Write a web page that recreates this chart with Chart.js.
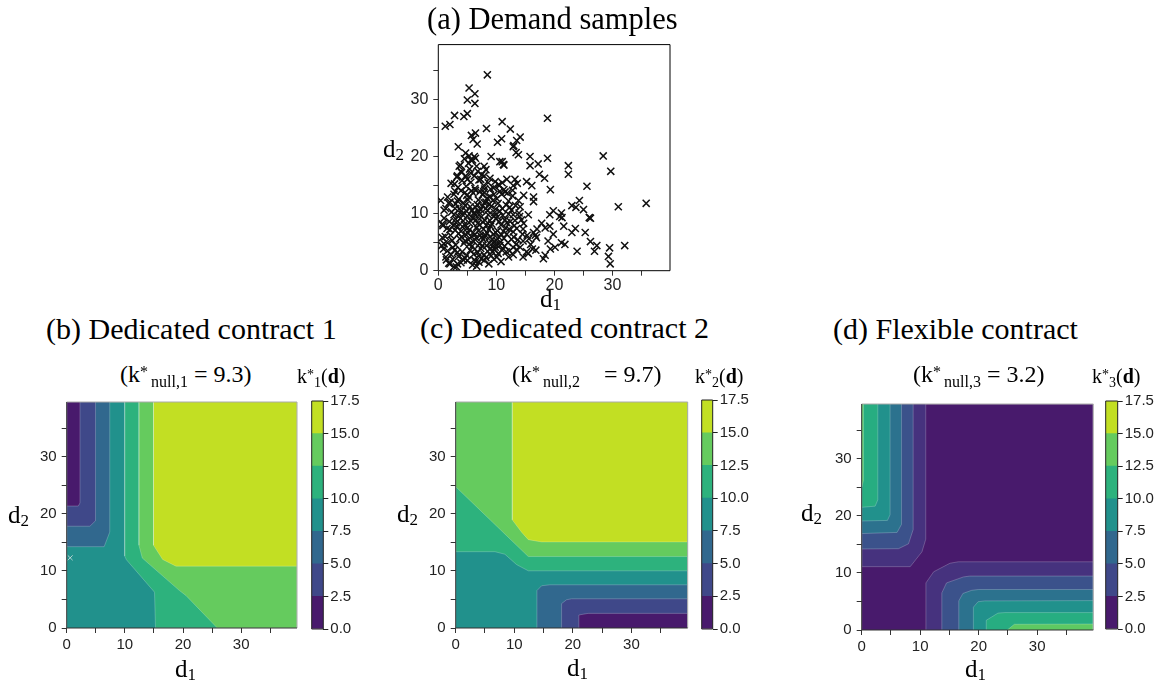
<!DOCTYPE html>
<html>
<head>
<meta charset="utf-8">
<script src="https://cdn.jsdelivr.net/npm/chart.js"></script>
<style>
body{margin:0;background:#fff;width:1165px;height:686px;position:relative;overflow:hidden;font-family:"Liberation Serif","Times New Roman",serif;}
canvas{position:absolute}
.t{position:absolute;white-space:nowrap;color:#000;line-height:1}
.sp{font-size:16px;position:relative;top:-5px}
.sb{font-size:16px;position:relative;top:5px;margin-left:3px}
.sp2{font-size:14px;position:relative;top:-4px}
.sb2{font-size:14px;position:relative;top:4px}
.sb3{font-size:17px;position:relative;top:3px}
</style>
</head>
<body>
<canvas id="chartA" width="300" height="262" style="left:380px;top:30px"></canvas>
<canvas id="chartB" width="276" height="276" style="left:26px;top:388px"></canvas>
<canvas id="chartC" width="276" height="276" style="left:415px;top:388px"></canvas>
<canvas id="chartD" width="276" height="276" style="left:821px;top:390.3px"></canvas>
<canvas id="cbB" width="62" height="250" style="left:306px;top:390px"></canvas>
<canvas id="cbC" width="62" height="251" style="left:696px;top:389.3px"></canvas>
<canvas id="cbD" width="62" height="250" style="left:1100px;top:390.3px"></canvas>

<div class="t" style="left:427px;top:4px;font-size:30.5px">(a) Demand samples</div>
<div class="t" style="left:46px;top:314px;font-size:30px">(b) Dedicated contract 1</div>
<div class="t" style="left:420px;top:313px;font-size:30px">(c) Dedicated contract 2</div>
<div class="t" style="left:833px;top:314px;font-size:30px">(d) Flexible contract</div>

<div class="t" style="left:120px;top:362px;font-size:24px">(k<span class="sp">*</span><span class="sb">null,1</span> = 9.3)</div>
<div class="t" style="left:512px;top:362px;font-size:24px">(k<span class="sp">*</span><span class="sb">null,2</span><span style="display:inline-block;width:18px"></span> = 9.7)</div>
<div class="t" style="left:913px;top:362px;font-size:24px">(k<span class="sp">*</span><span class="sb">null,3</span> = 3.2)</div>

<div class="t" style="left:297px;top:366px;font-size:20px">k<span class="sp2">*</span><span class="sb2">1</span>(<b>d</b>)</div>
<div class="t" style="left:695px;top:366px;font-size:20px">k<span class="sp2">*</span><span class="sb2">2</span>(<b>d</b>)</div>
<div class="t" style="left:1092px;top:366px;font-size:20px">k<span class="sp2">*</span><span class="sb2">3</span>(<b>d</b>)</div>

<div class="t" style="left:383px;top:136px;font-size:25px">d<span class="sb3">2</span></div>
<div class="t" style="left:540px;top:286px;font-size:25px">d<span class="sb3">1</span></div>
<div class="t" style="left:8px;top:502px;font-size:25px">d<span class="sb3">2</span></div>
<div class="t" style="left:175px;top:656px;font-size:25px">d<span class="sb3">1</span></div>
<div class="t" style="left:397px;top:501px;font-size:25px">d<span class="sb3">2</span></div>
<div class="t" style="left:567px;top:655px;font-size:25px">d<span class="sb3">1</span></div>
<div class="t" style="left:801px;top:500px;font-size:25px">d<span class="sb3">2</span></div>
<div class="t" style="left:965px;top:656px;font-size:25px">d<span class="sb3">1</span></div>

<script>
// ---- data ----
// (a) demand samples [d1, d2]
const demandSamples = [
  [8.45,34.3],[5.3,32.0],[6.3,31.0],[5.0,29.9],[6.3,29.3],[1.2,25.3],[2.0,25.6],[2.8,27.2],[4.4,27.0],[5.0,27.5],
  [8.3,24.9],[11.0,26.1],[12.4,24.8],[18.8,26.7],[5.7,23.7],[6.4,24.1],[6.0,23.0],[6.7,22.2],[10.2,22.5],[10.9,23.1],
  [14.1,23.4],[13.5,22.8],[13.0,21.9],[3.45,21.7],
  [28.4,20.1],[22.4,18.4],[22.4,16.9],[29.7,17.4],[25.6,14.8],[24.3,12.3],[23.0,11.4],[23.7,11.1],[25.0,10.7],[26.0,9.3],
  [26.2,9.2],[35.8,11.8],[31.0,11.2],[21.3,9.3],[21.6,7.8],[23.6,7.4],[23.0,6.7],[25.3,6.7],[21.8,4.6],[26.2,5.1],
  [27.3,4.4],[26.9,3.4],[23.9,3.4],[29.5,4.0],[29.3,2.5],[29.6,1.2],[32.1,4.4],
  [12.9,21.7],[13.4,20.7],[13.8,20.3],[15.8,20.0],[15.8,18.4],[17.2,18.7],[18.8,19.7],[17.4,16.9],[18.3,16.2],[19.3,14.2],
  [11.2,18.6],[11.0,19.1],[15.2,15.6],[16.1,14.9],[14.7,13.2],[16.4,12.9],[13.2,16.0],[12.9,14.9],[11.8,16.0],[11.5,13.8],
  [19.8,10.5],[19.2,9.8],[20.9,9.5],[21.2,10.1],[17.8,8.3],[18.4,7.5],[19.2,7.8],[19.8,6.4],[18.9,5.2],[20.1,4.1],
  [21.2,4.9],[16.9,5.8],[16.4,6.7],[14.6,5.2],[14.1,4.1],[12.9,4.1],[12.1,2.4],[14.6,2.4],[18.1,2.1],[18.4,2.7],
  [15.5,9.8],[16.4,12.1],[14.1,11.2],[12.4,8.6],[13.5,7.4],[11.8,6.4],
  [4.7,20.6],[5.3,20.1],[5.6,19.4],[6.4,19.7],[7.9,18.3],[8.2,17.7],[3.6,18.3],[3.9,17.4],[3.3,16.6],[2.8,15.2],
  [5.6,17.1],[6.2,16.6],[5.0,16.0],[7.3,16.0],[7.9,16.6],[0.4,12.3],[1.6,12.9],[1.8,11.8],[1.3,10.9],[1.0,9.2],
  [2.7,9.8],[0.7,5.8],[1.0,4.7],[1.6,3.5],[1.3,2.4],[1.8,1.3],[2.7,0.7],[3.3,1.2],[5.0,1.8],[5.9,1.0],
  [6.4,1.6],[8.7,1.2],[7.9,13.7],[9.0,14.3],[9.6,13.4],[10.5,14.9],[11.0,15.4],[6.2,20.0],[9.1,20.0],
  [2.2,2.8],[2.8,3.6],[3.5,2.5],[4.1,3.3],[4.9,2.7],[5.5,3.6],[6.1,2.9],[6.8,3.2],[7.3,3.9],[7.9,2.8],
  [8.5,3.4],[9.1,2.6],[9.7,3.7],[10.3,3.0],[11.0,3.6],[11.7,3.3],[13.5,3.7],[15.2,3.3],[16.2,3.8],[7.4,2.1],
  [9.6,2.0],[4.3,1.9],
  [1.6,4.9],[2.4,5.3],[3.0,4.5],[3.7,5.6],[4.4,4.8],[5.2,5.4],[5.8,4.3],[6.5,5.8],[7.1,4.7],[7.7,5.5],
  [8.3,4.4],[8.9,5.9],[9.4,4.9],[10.0,5.3],[10.6,4.4],[11.3,5.7],[12.0,4.9],[12.6,5.5],[13.4,4.6],[15.6,5.6],
  [4.0,5.9],[6.1,5.1],[8.0,5.9],[9.8,4.1],
  [1.5,7.4],[2.1,6.2],[2.9,7.1],[3.5,6.5],[4.2,7.7],[4.8,6.3],[5.4,7.2],[6.0,6.7],[6.6,7.6],[7.2,6.2],
  [7.8,7.3],[8.4,6.6],[9.0,7.8],[9.5,6.4],[10.2,7.0],[10.9,6.3],[11.6,7.5],[12.9,6.8],[13.1,7.9],[14.6,7.3],
  [15.3,6.2],[5.7,6.0],[3.2,7.8],
  [1.9,8.6],[3.1,8.4],[3.8,9.2],[4.5,8.1],[5.0,9.6],[5.6,8.7],[6.2,9.9],[6.8,8.3],[7.4,9.4],[8.0,8.9],
  [8.6,9.8],[9.2,8.2],[9.9,9.1],[10.5,8.6],[11.1,9.7],[11.8,8.4],[13.2,8.8],[14.0,9.5],[14.7,8.3],[7.1,8.0],
  [4.1,9.9],[0.8,7.9],
  [2.3,10.3],[3.0,11.7],[3.6,10.8],[4.3,11.9],[4.9,10.4],[5.5,11.2],[6.1,10.1],[6.7,11.6],[7.3,10.7],[7.9,11.9],
  [8.5,10.5],[9.1,11.3],[9.7,10.2],[10.3,11.8],[11.0,10.9],[11.7,11.5],[12.6,10.6],[13.3,11.4],[2.0,12.0],[8.2,12.0],
  [1.0,10.6],
  [2.7,13.4],[3.5,12.5],[4.6,13.7],[5.3,12.9],[6.0,13.6],[6.9,12.4],[7.6,13.3],[8.4,12.7],[10.1,12.6],[10.9,13.4],
  [12.8,13.1],[13.8,12.3],[3.9,14.0],[6.4,14.1],
  [2.2,15.3],[3.4,14.6],[4.1,15.8],[4.8,14.8],[5.6,15.5],[6.3,14.4],[7.0,15.9],[7.8,14.9],[8.6,15.4],[9.5,14.5],
  [10.4,15.1],[11.3,14.2],[12.8,14.1],[13.6,15.3],
  [3.2,16.4],[4.0,17.2],[4.7,16.6],[5.4,17.8],[6.8,17.4],[7.5,16.8],[8.9,16.2],[4.5,19.6],[5.2,18.8],[5.9,19.4],
  [6.6,18.3],[10.6,19.1],[11.3,18.5],[3.8,18.5],
  [0.9,3.8],[0.6,4.4],[1.4,1.9],[2.0,1.2],[3.1,0.7],[6.6,0.8],[10.8,1.6],[6.2,1.9],[0.7,8.2],[15.5,3.0],
  [16.8,3.6],[19.3,3.8],
  [2.5,4.1],[3.3,3.2],[4.6,2.2],[5.3,4.6],[6.3,3.8],[7.0,2.6],[7.6,4.4],[8.2,2.3],[8.8,4.8],[9.3,3.3],
  [10.1,2.4],[10.7,5.0],[11.4,4.3],[12.3,3.5],[13.0,5.9],[3.9,6.9],[4.6,5.2],[5.1,6.6],[6.3,6.3],[6.9,7.0],
  [7.5,5.9],[8.1,6.2],[8.7,7.2],[9.3,5.5],[9.9,6.7],[10.4,5.9],[11.2,6.9],[12.2,7.3],[2.6,8.0],[3.4,9.6],
  [4.3,8.7],[4.9,7.4],[5.3,8.4],[5.9,9.2],[6.5,8.9],[7.0,9.8],[7.7,8.5],[8.3,8.0],[8.9,8.8],[9.6,9.6],
  [10.2,9.4],[10.8,8.0],[11.5,8.9],[12.1,9.9],[12.9,9.8],[2.9,10.9],[3.3,12.2],[4.0,10.5],[4.6,11.4],[5.1,12.4],
  [5.8,10.6],[6.4,11.1],[7.0,10.3],[7.6,11.3],[8.2,10.9],[8.8,11.7],[9.4,12.3],[9.9,10.8],[10.6,10.4],[12.1,12.2],
  [12.3,11.1],[13.9,10.1],[4.9,13.2],[5.7,14.0],[7.2,13.9],[8.0,14.3],[8.9,13.0],[9.8,15.6],[10.6,13.9],[11.9,13.6],
  [2.9,13.9],[3.0,9.0],[2.0,7.2],[1.2,6.0],[2.5,2.0],[3.9,1.4],[7.0,1.5],[7.9,1.8],[9.0,3.9],[10.0,4.6],
  [12.9,2.8],[13.7,5.4],[14.5,6.4],[15.9,4.6],[16.7,6.2],[17.0,7.3],[14.3,8.9]
];

// contour level bounds and colorbar
const cbLevels = [0, 2.5, 5, 7.5, 10, 12.5, 15, 17.5];
const cbTickLabels = ['0.0', '2.5', '5.0', '7.5', '10.0', '12.5', '15.0', '17.5'];
const cbColors = ['#481a6c', '#3f4889', '#31688e', '#21918c', '#2db27d', '#65cb5e', '#c2df23'];
const axisTickLabels = [0, 10, 20, 30];

// (b) k*_1(d) filled regions [d1, d2]
const bBase = [[0,0],[0,39.6],[39.6,39.6],[39.6,0]];
const bGe10 = [[9.97,39.6],[9.97,12.6],[10.26,11.97],[15.1,6.27],[15.27,0],[39.6,0],[39.6,39.6]];
const bGe12 = [[12.42,39.6],[12.42,14.5],[13.0,12.25],[19.4,6.55],[20.5,5.7],[25.9,0],[39.6,0],[39.6,39.6]];
const bGe15 = [[14.93,39.6],[14.93,14.5],[16.5,12.0],[18.8,10.83],[39.6,10.83],[39.6,39.6]];
const bLt75 = [[0,39.6],[0,14.25],[6.44,14.25],[7.4,16.8],[7.4,39.6]];
const bLt5 = [[0,39.6],[0,17.83],[3.99,17.83],[4.96,18.8],[4.96,39.6]];
const bLt25 = [[0,39.6],[0,21.37],[1.99,21.37],[2.28,21.9],[2.28,39.6]];
const bMarker = [[0.6,12.3]];

// (c) k*_2(d)
const cBase = [[0,0],[0,39.6],[39.6,39.6],[39.6,0]];
const cGe10 = [[0,39.6],[0,13.37],[6.7,13.37],[8.4,12.92],[10.4,11.1],[12.4,10.02],[39.6,10.02],[39.6,39.6]];
const cGe12 = [[0,39.6],[0,24.76],[12.39,12.52],[39.6,12.52],[39.6,39.6]];
const cGe15 = [[9.66,39.6],[9.66,18.95],[11.25,16.79],[12.39,15.48],[14.66,15.08],[39.6,15.08],[39.6,39.6]];
const cLt75 = [[13.86,0],[13.86,6.55],[14.66,7.4],[16.08,7.57],[39.6,7.57],[39.6,0]];
const cLt5 = [[18.07,0],[18.07,4.27],[18.92,4.95],[19.8,5.12],[39.6,5.12],[39.6,0]];
const cLt25 = [[21.02,0],[21.02,2.28],[22.6,2.56],[39.6,2.56],[39.6,0]];

// (d) k*_3(d)
const dColors = ['#481a6c', '#46327e', '#3b528b', '#2c728e', '#21918c', '#27ad81', '#5ec962'];
const dBase = [[0,0],[0,39.6],[39.6,39.6],[39.6,0]];
const dUL1 = [[0,39.6],[0,11.1],[8.3,11.1],[10.3,13.7],[10.95,15.9],[10.95,39.6]];
const dUL2 = [[0,39.6],[0,14.2],[6.3,14.25],[8.0,15.1],[8.8,17.6],[8.8,39.6]];
const dUL3 = [[0,39.6],[0,16.9],[6.05,17.1],[6.8,18.5],[6.8,39.6]];
const dUL4 = [[0,39.6],[0,19.1],[4.4,19.2],[4.85,20.2],[4.85,39.6]];
const dUL5 = [[0,39.6],[0,21.5],[2.3,21.7],[2.75,22.8],[2.75,39.6]];
const dUL6 = [[0,39.6],[0,25.0],[0.3,26.2],[0.3,39.6]];
const dLR1 = [[10.98,0],[10.98,8.25],[12.3,10.2],[15.1,11.7],[16.5,11.95],[39.6,11.95],[39.6,0]];
const dLR2 = [[13.7,0],[13.7,6.5],[14.5,8.25],[17.4,9.3],[18.5,9.45],[39.6,9.45],[39.6,0]];
const dLR3 = [[16.6,0],[16.6,5.1],[17.3,6.4],[18.8,6.95],[20,7.1],[39.6,7.1],[39.6,0]];
const dLR4 = [[19.1,0],[19.1,4.0],[19.9,4.95],[21.05,5.1],[39.6,5.15],[39.6,0]];
const dLR5 = [[21.3,0],[21.3,1.7],[23.3,2.96],[24.5,3.05],[39.6,3.05],[39.6,0]];
const dLR6 = [[24.9,0],[26.1,1.0],[39.6,1.05],[39.6,0]];

// ---- helpers ----
Chart.defaults.font.family = '"Liberation Sans", Arial, sans-serif';
Chart.defaults.color = '#222';

const toXY = a => a.map(p => ({x: p[0], y: p[1]}));

const framePlugin = {
  id: 'frame',
  afterDatasetsDraw(chart, args, opts) {
    const {ctx, chartArea: a} = chart;
    ctx.save();
    ctx.lineWidth = 1;
    ctx.strokeStyle = opts.light;
    ctx.beginPath();
    ctx.moveTo(a.left, a.top); ctx.lineTo(a.right, a.top); ctx.lineTo(a.right, a.bottom);
    ctx.stroke();
    ctx.strokeStyle = opts.color;
    ctx.beginPath();
    ctx.moveTo(a.left, a.top); ctx.lineTo(a.left, a.bottom); ctx.lineTo(a.right, a.bottom);
    ctx.stroke();
    ctx.restore();
  }
};

function axis(pos, max, size, fontSize, pad) {
  return {
    type: 'linear', position: pos, min: 0, max: max,
    afterFit: s => { if (pos === 'left') s.width = size; else s.height = size; },
    ticks: {
      stepSize: 5, includeBounds: false, autoSkip: false, maxRotation: 0,
      padding: pad, color: '#222', font: {size: fontSize},
      callback: v => axisTickLabels.includes(v) ? String(v) : ''
    },
    grid: {drawOnChartArea: false, drawTicks: true, tickLength: 5, color: '#333'},
    border: {display: false}
  };
}

// ---- (a) scatter ----
new Chart(document.getElementById('chartA'), {
  type: 'scatter',
  data: {
    datasets: [{
      data: toXY(demandSamples),
      pointStyle: 'crossRot', pointRadius: 5,
      pointBorderColor: '#111', pointBorderWidth: 1.5, backgroundColor: '#111'
    }]
  },
  options: {
    responsive: false, animation: false, events: [], devicePixelRatio: 1,
    layout: {padding: {top: 8, right: 10, left: 0, bottom: 0}},
    plugins: {legend: {display: false}, tooltip: {enabled: false}, frame: {color: '#000', light: '#000'}},
    scales: {
      x: axis('bottom', 39.9, 21.3, 16, 0),
      y: axis('left', 39.6, 58.3, 16, 5)
    }
  },
  plugins: [framePlugin]
});

// ---- contour panels ----
function contourChart(id, polys, colors, padRight, padTop, marker) {
  const datasets = polys.map((p, i) => ({
    data: toXY(p), fill: 'shape', backgroundColor: colors[i],
    borderColor: 'rgba(255,255,255,0.28)', borderWidth: 0.8,
    pointRadius: 0, tension: 0, clip: 0, order: -i
  }));
  if (marker) {
    datasets.push({
      data: toXY(marker), showLine: false, fill: false, pointStyle: 'crossRot',
      pointRadius: 3.5, pointBorderColor: 'rgba(235,235,235,0.7)', pointBorderWidth: 1,
      order: -99
    });
  }
  new Chart(document.getElementById(id), {
    type: 'line',
    data: {datasets},
    options: {
      responsive: false, animation: false, events: [], devicePixelRatio: 1,
      layout: {padding: {top: padTop, right: padRight, left: 0, bottom: 0}},
      plugins: {legend: {display: false}, tooltip: {enabled: false}, frame: {color: '#333', light: '#aaa'}},
      scales: {
        x: axis('bottom', 39.6, 36, 15, 3),
        y: axis('left', 39.6, 40.7, 15, 5)
      }
    },
    plugins: [framePlugin]
  });
}

contourChart('chartB',
  [bBase, bGe10, bGe12, bGe15, bLt75, bLt5, bLt25],
  [cbColors[3], cbColors[4], cbColors[5], cbColors[6], cbColors[2], cbColors[1], cbColors[0]],
  4, 8, bMarker);

contourChart('chartC',
  [cBase, cGe10, cGe12, cGe15, cLt75, cLt5, cLt25],
  [cbColors[3], cbColors[4], cbColors[5], cbColors[6], cbColors[2], cbColors[1], cbColors[0]],
  3.3, 8, null);

contourChart('chartD',
  [dBase, dUL1, dUL2, dUL3, dUL4, dUL5, dUL6, dLR1, dLR2, dLR3, dLR4, dLR5, dLR6],
  [dColors[0], dColors[1], dColors[2], dColors[3], dColors[4], dColors[5], dColors[6],
   dColors[1], dColors[2], dColors[3], dColors[4], dColors[5], dColors[6]],
  3.7, 8, null);

// ---- colorbars ----
function colorbar(id, padLeft, barW, canvasW, padTop, padBottom) {
  const axisW = canvasW - padLeft - barW;
  new Chart(document.getElementById(id), {
    type: 'bar',
    data: {
      labels: [''],
      datasets: cbLevels.slice(0, -1).map((lo, i) => ({
        data: [[lo, cbLevels[i + 1]]], backgroundColor: cbColors[i],
        borderWidth: 0, barPercentage: 1, categoryPercentage: 1, grouped: false
      }))
    },
    options: {
      responsive: false, animation: false, events: [], devicePixelRatio: 1,
      layout: {padding: {top: padTop, bottom: padBottom, left: padLeft, right: 0}},
      plugins: {legend: {display: false}, tooltip: {enabled: false}, frame: {color: '#222', light: '#222'}},
      scales: {
        x: {display: false},
        y: {
          position: 'right', min: 0, max: 17.5,
          afterFit: s => { s.width = axisW; },
          ticks: {
            stepSize: 2.5, autoSkip: false, padding: 2, color: '#222', font: {size: 15},
            callback: v => { const i = cbLevels.indexOf(v); return i >= 0 ? cbTickLabels[i] : ''; }
          },
          grid: {drawOnChartArea: false, drawTicks: true, tickLength: 5, color: '#222'},
          border: {display: false}
        }
      }
    },
    plugins: [framePlugin]
  });
}

colorbar('cbB', 5.7, 11.6, 62, 8, 10);
colorbar('cbC', 5.7, 11, 62, 8, 10.7);
colorbar('cbD', 5.7, 12, 62, 8, 9.7);
</script>
</body>
</html>
